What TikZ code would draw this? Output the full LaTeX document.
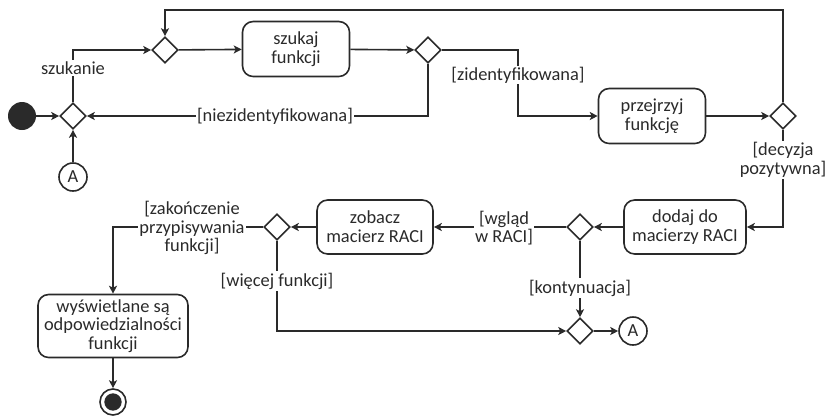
\documentclass[tikz,border=0pt]{standalone}
\usepackage{fontspec}
\setmainfont{Carlito}
\usetikzlibrary{shapes.geometric,arrows.meta}
\definecolor{ink}{HTML}{2A2A2A}
\begin{document}
\begin{tikzpicture}[x=0.75pt,y=-0.75pt,
  every node/.style={font=\fontsize{13.8}{14}\selectfont, text=ink},
  act/.style={draw=ink, line width=1.2pt, rounded corners=8pt, align=center, inner sep=0pt, fill=white},
  dec/.style={draw=ink, line width=1.2pt, diamond, aspect=1, minimum width=19.5pt, minimum height=19.5pt, inner sep=0pt, fill=white},
  conn/.style={draw=ink, line width=1.2pt, circle, minimum size=21pt, inner sep=0pt, fill=white},
  flow/.style={draw=ink, line width=1.2pt, -{Stealth[length=6pt,width=6pt,inset=1.5pt]}},
  guard/.style={fill=white, inner sep=1pt, align=center}]
\useasboundingbox (0,0) rectangle (830,415);

% initial and final nodes
\node[circle, fill=ink, minimum size=21pt, inner sep=0pt] (start) at (22,116) {};
\node[circle, draw=ink, line width=1.2pt, minimum size=19.5pt, inner sep=0pt] (finish) at (113,402) {};
\node[circle, fill=ink, minimum size=13pt, inner sep=0pt] (finishdot) at (113,402) {};

% decisions and merges
\node[dec] (d1) at (73,116) {};
\node[dec] (d2) at (165,50) {};
\node[dec] (d3) at (428,50) {};
\node[dec] (d4) at (783,116) {};
\node[dec] (d5) at (580,227) {};
\node[dec] (d6) at (277,227) {};
\node[dec] (d7) at (580,331) {};

% connectors A
\node[conn] (a1) at (73,177) {A};
\node[conn] (a2) at (633,331) {A};

% actions
\node[act, minimum width=80.25pt, minimum height=41.25pt] (szukaj) at (296,49) {szukaj\\funkcji};
\node[act, minimum width=80.25pt, minimum height=41.25pt] (przejrzyj) at (652,116) {przejrzyj\\funkcję};
\node[act, minimum width=91.5pt, minimum height=40.5pt] (dodaj) at (685,227) {dodaj do\\macierzy RACI};
\node[act, minimum width=87pt, minimum height=40.5pt] (zobacz) at (375,227) {zobacz\\macierz RACI};
\node[act, minimum width=112.5pt, minimum height=47.25pt] (wysw) at (113,326) {wyświetlane są\\odpowiedzialności\\funkcji};

% flows
\draw[flow] (start) -- (d1);
\draw[flow] (a1) -- (d1);
\draw[flow] (d1.north) |- (d2.west);
\draw[flow] (d2) -- (szukaj);
\draw[flow] (szukaj) -- (d3);
\draw[flow] (d3.east) -- (518,50) |- (przejrzyj.west);
\draw[flow] (d3.south) |- (d1.east);
\draw[flow] (przejrzyj) -- (d4);
\draw[flow] (d4.north) -- (783,10) -| (d2.north);
\draw[flow] (d4.south) |- (dodaj.east);
\draw[flow] (dodaj) -- (d5);
\draw[flow] (d5) -- (zobacz);
\draw[flow] (zobacz) -- (d6);
\draw[flow] (d6.west) -| (wysw.north);
\draw[flow] (wysw) -- (finish);
\draw[flow] (d6.south) |- (d7.west);
\draw[flow] (d5.south) -- (d7.north);
\draw[flow] (d7) -- (a2);

% guards
\node[guard] (gszuk) at (73,68) {szukanie};
\node[guard] (gnie) at (275,116) {[niezidentyfikowana]};
\node[guard] (gzid) at (518,75) {[zidentyfikowana]};
\node[guard] (gdec) at (783,160) {[decyzja\\pozytywna]};
\node[guard] (gwgl) at (504,228) {[wgląd\\w RACI]};
\node[guard] (gzak) at (192,228) {[zakończenie\\przypisywania\\funkcji]};
\node[guard] (gwie) at (277,281) {[więcej funkcji]};
\node[guard] (gkon) at (580,288) {[kontynuacja]};
\end{tikzpicture}
\end{document}
